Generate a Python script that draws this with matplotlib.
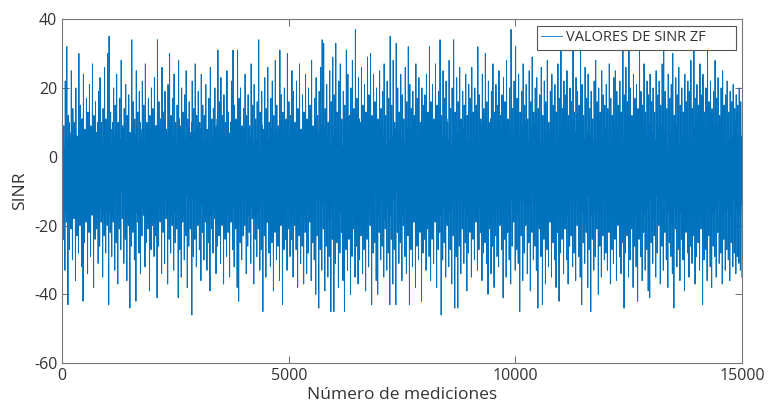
import numpy as np
import matplotlib
matplotlib.use("Agg")
import matplotlib.pyplot as plt

# SINR trace left to right, in 450 short stretches:
# the top spike, the core's lower and upper edge and the bottom spike of each stretch
upper = [
    18, 9, 22, 32, 12, 7, 25, 14, 10, 20, 6, 30, 15, 11, 24, 8, 17, 13, 21, 9, 27, 12, 16, 7, 19, 23, 10, 14, 26, 11,
    30, 35, 13, 8, 20, 15, 24, 10, 17, 28, 9, 14, 21, 12, 18, 7, 34, 16, 11, 25, 13, 19, 8, 22, 15, 27, 10, 17, 12, 20,
    14, 23, 9, 34, 16, 11, 26, 13, 19, 8, 21, 30, 12, 17, 24, 10, 15, 28, 9, 20, 13, 18, 25, 11, 16, 7, 22, 14, 27, 12,
    19, 10, 24, 15, 12, 21, 8, 17, 26, 11, 14, 20, 9, 31, 16, 23, 12, 18, 10, 25, 13, 7, 22, 31, 15, 11, 31, 17, 20, 9,
    14, 24, 12, 18, 9, 27, 15, 21, 11, 16, 34, 13, 19, 8, 23, 14, 26, 10, 17, 22, 12, 28, 15, 9, 31, 18, 13, 20, 11, 30,
    16, 12, 25, 19, 10, 22, 14, 27, 8, 18, 13, 24, 11, 20, 15, 28, 9, 17, 23, 12, 19, 26, 34, 33, 14, 21, 10, 25, 16, 29,
    18, 33, 13, 22, 27, 11, 19, 15, 31, 24, 12, 20, 28, 14, 37, 17, 23, 10, 26, 15, 21, 13, 29, 18, 30, 12, 24, 16, 20, 11,
    25, 14, 19, 27, 12, 22, 17, 35, 15, 28, 10, 33, 20, 13, 24, 18, 11, 26, 16, 32, 21, 14, 19, 12, 27, 17, 23, 10, 20, 15,
    18, 24, 13, 32, 16, 21, 11, 27, 15, 19, 34, 12, 25, 17, 22, 10, 28, 14, 20, 34, 13, 23, 16, 26, 11, 19, 15, 24, 12, 21,
    17, 26, 13, 20, 15, 32, 18, 11, 24, 14, 30, 16, 22, 10, 19, 27, 13, 21, 15, 25, 12, 18, 23, 16, 28, 11, 20, 37, 14, 22,
    32, 17, 24, 13, 19, 27, 15, 21, 11, 25, 16, 29, 13, 20, 23, 14, 18, 26, 12, 22, 16, 28, 10, 19, 24, 15, 21, 13, 27, 17,
    33, 14, 22, 18, 25, 12, 20, 16, 31, 13, 23, 19, 15, 33, 21, 12, 26, 17, 24, 14, 19, 11, 22, 28, 16, 20, 13, 25, 18, 15,
    21, 14, 27, 17, 12, 23, 25, 19, 15, 22, 13, 33, 18, 26, 16, 33, 20, 12, 24, 17, 21, 14, 33, 19, 15, 27, 13, 22, 18, 24,
    16, 20, 13, 25, 18, 22, 15, 27, 33, 19, 14, 24, 17, 21, 30, 12, 23, 18, 26, 15, 20, 13, 24, 16, 22, 19, 28, 14, 33, 17,
    21, 15, 27, 18, 24, 13, 20, 33, 16, 22, 14, 19, 28, 17, 23, 12, 20, 25, 15, 18, 22, 13, 19, 16, 21, 14, 18, 15, 20, 16,
]
core_lo = [
    -14, -11, -16, -13, -18, -12, -15, -10, -17, -13, -15, -12, -19, -14, -11, -16, -13, -17, -12, -15, -14, -18, -11, -16, -13, -15, -12, -17, -14, -16,
    -13, -16, -12, -18, -14, -11, -15, -17, -13, -10, -16, -14, -12, -19, -15, -13, -17, -11, -14, -16, -12, -18, -13, -15, -10, -14, -17, -12, -16, -13,
    -15, -12, -17, -14, -11, -16, -13, -18, -12, -15, -14, -10, -17, -13, -16, -11, -15, -19, -12, -14, -17, -13, -11, -16, -14, -18, -12, -15, -13, -17,
    -11, -16, -14, -12, -18, -13, -15, -10, -17, -14, -12, -16, -19, -13, -11, -15, -17, -12, -14, -16, -13, -18, -11, -15, -14, -12, -17, -13, -16, -10,
    -16, -13, -11, -17, -14, -15, -12, -18, -13, -16, -10, -14, -17, -12, -15, -19, -13, -11, -16, -14, -12, -17, -15, -13, -18, -11, -14, -16, -12, -15,
    -14, -17, -12, -15, -11, -16, -18, -13, -14, -10, -17, -12, -15, -13, -16, -14, -11, -19, -13, -15, -12, -17, -14, -16, -11, -13, -18, -12, -15, -14,
    -12, -15, -17, -13, -16, -11, -14, -18, -12, -15, -13, -17, -10, -14, -16, -12, -19, -13, -15, -11, -17, -14, -12, -16, -13, -18, -15, -11, -14, -17,
    -16, -12, -14, -18, -11, -15, -13, -17, -14, -12, -16, -10, -15, -19, -13, -17, -12, -14, -16, -11, -15, -13, -18, -12, -14, -17, -13, -16, -11, -15,
    -13, -17, -11, -15, -14, -18, -12, -16, -13, -10, -17, -14, -15, -12, -19, -13, -16, -11, -14, -17, -12, -15, -13, -18, -11, -16, -14, -12, -17, -13,
    -15, -11, -16, -13, -18, -12, -14, -17, -10, -15, -13, -16, -12, -19, -14, -11, -17, -13, -15, -12, -16, -14, -18, -11, -13, -17, -15, -12, -14, -16,
    -12, -16, -14, -11, -17, -13, -18, -15, -12, -14, -16, -10, -17, -13, -15, -19, -12, -14, -11, -16, -13, -17, -15, -12, -18, -14, -11, -16, -13, -15,
    -17, -13, -15, -12, -16, -14, -11, -18, -13, -15, -10, -17, -14, -12, -16, -13, -19, -15, -11, -14, -17, -12, -16, -13, -15, -18, -11, -14, -12, -16,
    -14, -11, -17, -13, -15, -18, -12, -16, -14, -10, -17, -13, -15, -12, -19, -14, -16, -11, -13, -17, -15, -12, -18, -14, -11, -16, -13, -15, -17, -12,
    -15, -18, -13, -11, -16, -14, -17, -12, -15, -13, -10, -16, -14, -19, -12, -15, -17, -13, -11, -16, -14, -18, -12, -15, -13, -17, -11, -14, -16, -13,
    -12, -16, -14, -17, -11, -15, -13, -18, -14, -12, -16, -10, -15, -17, -13, -19, -14, -12, -16, -11, -15, -13, -17, -14, -12, -18, -15, -13, -16, -14,
]
core_hi = [
    6, 3, 8, 5, 10, 4, 7, 2, 9, 6, 4, 8, 5, 11, 3, 7, 6, 9, 4, 5, 8, 2, 7, 10, 5, 6, 3, 9, 4, 7,
    5, 8, 4, 10, 6, 3, 7, 9, 5, 2, 8, 6, 4, 11, 7, 5, 9, 3, 6, 8, 4, 10, 5, 7, 2, 6, 9, 4, 8, 5,
    7, 4, 9, 6, 3, 8, 5, 10, 4, 7, 6, 2, 9, 5, 8, 3, 7, 11, 4, 6, 9, 5, 3, 8, 6, 10, 4, 7, 5, 9,
    3, 8, 6, 4, 10, 5, 7, 2, 9, 6, 4, 8, 11, 5, 3, 7, 9, 4, 6, 8, 5, 10, 3, 7, 6, 4, 9, 5, 8, 2,
    8, 5, 3, 9, 6, 7, 4, 10, 5, 8, 2, 6, 9, 4, 7, 11, 5, 3, 8, 6, 4, 9, 7, 5, 10, 3, 6, 8, 4, 7,
    6, 9, 4, 7, 3, 8, 10, 5, 6, 2, 9, 4, 7, 5, 8, 6, 3, 11, 5, 7, 4, 9, 6, 8, 3, 5, 10, 4, 7, 6,
    4, 7, 9, 5, 8, 3, 6, 10, 4, 7, 5, 9, 2, 6, 8, 4, 11, 5, 7, 3, 9, 6, 4, 8, 5, 10, 7, 3, 6, 9,
    8, 4, 6, 10, 3, 7, 5, 9, 6, 4, 8, 2, 7, 11, 5, 9, 4, 6, 8, 3, 7, 5, 10, 4, 6, 9, 5, 8, 3, 7,
    5, 9, 3, 7, 6, 10, 4, 8, 5, 2, 9, 6, 7, 4, 11, 5, 8, 3, 6, 9, 4, 7, 5, 10, 3, 8, 6, 4, 9, 5,
    7, 3, 8, 5, 10, 4, 6, 9, 2, 7, 5, 8, 4, 11, 6, 3, 9, 5, 7, 4, 8, 6, 10, 3, 5, 9, 7, 4, 6, 8,
    4, 8, 6, 3, 9, 5, 10, 7, 4, 6, 8, 2, 9, 5, 7, 11, 4, 6, 3, 8, 5, 9, 7, 4, 10, 6, 3, 8, 5, 7,
    9, 5, 7, 4, 8, 6, 3, 10, 5, 7, 2, 9, 6, 4, 8, 5, 11, 7, 3, 6, 9, 4, 8, 5, 7, 10, 3, 6, 4, 8,
    6, 3, 9, 5, 7, 10, 4, 8, 6, 2, 9, 5, 7, 4, 11, 6, 8, 3, 5, 9, 7, 4, 10, 6, 3, 8, 5, 7, 9, 4,
    7, 10, 5, 3, 8, 6, 9, 4, 7, 5, 2, 8, 6, 11, 4, 7, 9, 5, 3, 8, 6, 10, 4, 7, 5, 9, 3, 6, 8, 5,
    4, 8, 6, 9, 3, 7, 5, 10, 6, 4, 8, 2, 7, 9, 5, 11, 6, 4, 8, 3, 7, 5, 9, 6, 4, 10, 7, 5, 8, 6,
]
lower = [
    -24, -33, -19, -43, -27, -21, -30, -18, -36, -23, -28, -20, -32, -42, -25, -19, -34, -22, -29, -17, -38, -24, -21, -31, -26, -19, -35, -23, -28, -20,
    -43, -22, -29, -19, -33, -25, -37, -21, -27, -18, -31, -24, -36, -20, -44, -26, -22, -30, -42, -19, -28, -34, -23, -17, -32, -25, -21, -39, -27, -20,
    -29, -23, -41, -26, -19, -34, -22, -31, -18, -37, -24, -28, -20, -33, -25, -21, -41, -27, -35, -19, -30, -23, -38, -26, -21, -46, -29, -24, -32, -20,
    -27, -36, -22, -30, -19, -33, -25, -39, -21, -28, -18, -34, -26, -23, -31, -20, -37, -24, -29, -22, -35, -19, -27, -32, -21, -38, -42, -25, -30, -23,
    -20, -34, -26, -22, -31, -18, -37, -24, -29, -21, -33, -27, -45, -23, -35, -19, -28, -32, -25, -39, -22, -30, -26, -36, -20, -43, -27, -24, -33, -21,
    -29, -24, -35, -20, -27, -38, -23, -31, -26, -37, -22, -34, -28, -19, -36, -25, -30, -40, -23, -44, -27, -33, -21, -39, -26, -35, -29, -45, -24, -45,
    -31, -25, -38, -28, -22, -36, -45, -27, -33, -24, -40, -29, -21, -35, -26, -37, -30, -23, -34, -27, -39, -24, -32, -20, -43, -28, -25, -36, -40, -22,
    -30, -26, -35, -21, -33, -28, -43, -24, -37, -27, -43, -22, -31, -25, -36, -20, -29, -34, -23, -43, -27, -32, -19, -38, -26, -30, -22, -42, -28, -24,
    -33, -21, -29, -36, -24, -31, -19, -38, -27, -22, -46, -30, -25, -35, -20, -32, -27, -37, -23, -44, -29, -44, -26, -34, -21, -31, -25, -39, -28, -22,
    -35, -24, -30, -19, -33, -27, -22, -36, -28, -25, -31, -40, -21, -34, -26, -38, -23, -29, -32, -20, -27, -41, -24, -35, -22, -30, -37, -26, -19, -33,
    -27, -31, -45, -23, -36, -28, -20, -34, -25, -39, -22, -30, -26, -33, -44, -21, -29, -43, -24, -37, -27, -32, -19, -35, -25, -30, -38, -22, -42, -28,
    -24, -34, -21, -30, -37, -26, -23, -32, -28, -36, -20, -29, -35, -43, -25, -31, -22, -38, -27, -45, -24, -33, -29, -21, -40, -26, -35, -23, -30, -28,
    -33, -22, -37, -27, -31, -24, -36, -20, -29, -34, -25, -44, -28, -23, -35, -30, -21, -38, -26, -32, -42, -24, -29, -36, -22, -33, -27, -39, -41, -25,
    -31, -23, -35, -28, -20, -37, -26, -33, -22, -30, -38, -25, -29, -34, -44, -21, -32, -27, -36, -24, -30, -39, -22, -28, -35, -26, -31, -23, -37, -29,
    -25, -33, -21, -43, -30, -27, -36, -23, -32, -38, -26, -29, -35, -22, -31, -28, -37, -24, -33, -27, -30, -36, -25, -32, -28, -34, -29, -31, -33, -35,
]
n_mediciones = 15000
x_ticks = [0, 5000, 10000, 15000]
y_ticks = [-60, -40, -20, 0, 20, 40]

sinr = np.column_stack([upper, core_lo, core_hi, lower]).ravel()
idx = np.linspace(1, n_mediciones, sinr.size)

plt.rcParams["font.family"] = ["Open Sans", "DejaVu Sans"]
plt.rcParams["axes.unicode_minus"] = False

fig = plt.figure(figsize=(7.68, 4.16), dpi=100)
ax = fig.add_axes([0.081, 0.127, 0.885, 0.827])
ax.plot(idx, sinr, color="#0072BD", lw=0.7, label="VALORES DE SINR ZF")

ax.set_xlim(0, n_mediciones)
ax.set_ylim(-60, 40)
ax.set_xticks(x_ticks)
ax.set_yticks(y_ticks)
ax.tick_params(direction="in", length=5, width=0.6, color="#555555",
               labelsize=11.5, labelcolor="#333333", top=True, right=True)
for s in ax.spines.values():
    s.set_color("#777777")
    s.set_linewidth(0.8)

ax.set_xlabel("Número de mediciones", fontsize=12.5, color="#333333", labelpad=2)
ax.set_ylabel("SINR", fontsize=12.5, color="#333333", labelpad=4)

# legend box stretched to the width it has in the original
leg = ax.legend(loc="upper left", bbox_to_anchor=(0.6985, 0.91, 0.2927, 0.0697),
                mode="expand", borderaxespad=0, fontsize=10.5, fancybox=False,
                framealpha=1, edgecolor="#555555", handlelength=1.4,
                borderpad=0.3, handletextpad=0.3)
leg.get_frame().set_linewidth(0.8)
leg.get_lines()[0].set_linewidth(0.6)
for t in leg.get_texts():
    t.set_color("#333333")

fig.savefig("out.png", dpi=100)
